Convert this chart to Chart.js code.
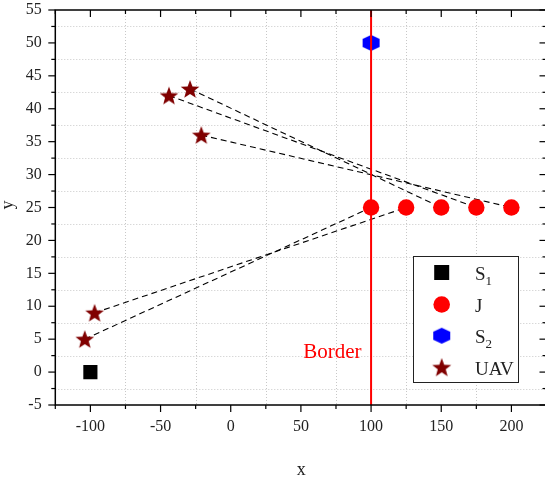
<!DOCTYPE html>
<html>
<head>
<meta charset="utf-8">
<script src="https://cdn.jsdelivr.net/npm/chart.js@4.4.1/dist/chart.umd.min.js"></script>
<style>
  html, body { margin: 0; padding: 0; overflow: hidden; background: #fff; }
  #wrap { width: 548px; height: 479px; }
</style>
</head>
<body>
<div id="wrap"><canvas id="posChart" width="548" height="479"></canvas></div>
<script>
// === ДАННЫЕ ===
const s1X = [-100];
const s1Y = [0];
const jamX = [100, 125, 150, 175, 200];
const jamY = [25, 25, 25, 25, 25];
const s2X = [100];
const s2Y = [50];
const uavX = [-29, -44, -21, -104, -97];
const uavY = [43, 42, 36, 5, 9];
// куда летит каждый БПЛА (индекс в jamX)
const uavTarget = [2, 3, 4, 0, 1];
const borderX = 100;

const xTicks = [-100, -50, 0, 50, 100, 150, 200];
const xMinor = [-125, -75, -25, 25, 75, 125, 175, 225];
const yTicks = [-5, 0, 5, 10, 15, 20, 25, 30, 35, 40, 45, 50, 55];
const yMinor = [-2.5, 2.5, 7.5, 12.5, 17.5, 22.5, 27.5, 32.5, 37.5, 42.5, 47.5, 52.5];

const FONT = "'Liberation Serif', 'Times New Roman', serif";
const UAV_COLOR = '#800000';

// === МАРКЕРЫ ===
function makeStar(rOut, color) {
    const size = Math.ceil(rOut * 2 + 2);
    const c = document.createElement('canvas');
    c.width = c.height = size;
    const g = c.getContext('2d');
    const cx = size / 2, cy = size / 2 + rOut * 0.08;
    g.beginPath();
    for (let i = 0; i < 10; i++) {
        const r = i % 2 ? rOut * 0.42 : rOut;
        const a = -Math.PI / 2 + i * Math.PI / 5;
        g.lineTo(cx + r * Math.cos(a), cy + r * Math.sin(a));
    }
    g.closePath();
    g.fillStyle = color;
    g.fill();
    return c;
}

function makeHex(w, h, color) {
    const c = document.createElement('canvas');
    c.width = w + 2; c.height = h + 2;
    const g = c.getContext('2d');
    const cx = c.width / 2, cy = c.height / 2;
    g.beginPath();
    g.moveTo(cx, cy - h / 2);
    g.lineTo(cx + w / 2, cy - h / 4);
    g.lineTo(cx + w / 2, cy + h / 4);
    g.lineTo(cx, cy + h / 2);
    g.lineTo(cx - w / 2, cy + h / 4);
    g.lineTo(cx - w / 2, cy - h / 4);
    g.closePath();
    g.fillStyle = color;
    g.fill();
    return c;
}

const starImg = makeStar(9.8, UAV_COLOR);
const hexImg = makeHex(17, 16, '#0000ff');

const pts = (xs, ys) => xs.map((x, i) => ({ x: x, y: ys[i] }));

// пунктир от БПЛА к постановщику помех
const pathSets = uavX.map((x, i) => ({
    label: 'path' + i,
    data: [{ x: x, y: uavY[i] }, { x: jamX[uavTarget[i]], y: jamY[uavTarget[i]] }],
    showLine: true,
    borderColor: '#000',
    borderWidth: 1.1,
    borderDash: [6, 4],
    pointRadius: 0
}));

// без запаса под крайние подписи
const noPad = s => { s.paddingTop = s.paddingBottom = s.paddingLeft = s.paddingRight = 0; };

// === СЕТКА, РАМКА, ЛЕГЕНДА ===
const decor = {
    id: 'decor',
    beforeDatasetsDraw(chart) {
        const { ctx, chartArea: a, scales: { x, y } } = chart;
        ctx.save();
        ctx.strokeStyle = '#c8c8c8';
        ctx.lineWidth = 1;
        ctx.setLineDash([1, 2]);
        xMinor.forEach(v => {
            const px = Math.round(x.getPixelForValue(v)) + 0.5;
            ctx.beginPath(); ctx.moveTo(px, a.top); ctx.lineTo(px, a.bottom); ctx.stroke();
        });
        yMinor.forEach(v => {
            const py = Math.round(y.getPixelForValue(v)) + 0.5;
            ctx.beginPath(); ctx.moveTo(a.left, py); ctx.lineTo(a.right, py); ctx.stroke();
        });
        ctx.restore();
    },
    afterDatasetsDraw(chart) {
        const { ctx, chartArea: a, scales: { x, y } } = chart;
        ctx.save();
        ctx.strokeStyle = '#000';
        ctx.lineWidth = 1.5;
        ctx.strokeRect(a.left, a.top, a.right - a.left, a.bottom - a.top);

        ctx.lineWidth = 1.2;
        const tick = (x1, y1, x2, y2) => { ctx.beginPath(); ctx.moveTo(x1, y1); ctx.lineTo(x2, y2); ctx.stroke(); };
        xTicks.forEach(v => {
            const px = x.getPixelForValue(v);
            tick(px, a.bottom, px, a.bottom + 7);
            tick(px, a.top, px, a.top + 7);
        });
        xMinor.forEach(v => {
            const px = x.getPixelForValue(v);
            tick(px, a.bottom, px, a.bottom + 4);
            tick(px, a.top, px, a.top + 4);
        });
        yTicks.forEach(v => {
            const py = y.getPixelForValue(v);
            tick(a.left, py, a.left - 7, py);
            tick(a.right, py, a.right - 7, py);
        });
        yMinor.forEach(v => {
            const py = y.getPixelForValue(v);
            tick(a.left, py, a.left - 4, py);
            tick(a.right, py, a.right - 4, py);
        });

        // подпись границы
        ctx.fillStyle = '#ff0000';
        ctx.font = '21px ' + FONT;
        ctx.textAlign = 'right';
        ctx.textBaseline = 'alphabetic';
        ctx.fillText('Border', x.getPixelForValue(borderX) - 9.5, y.getPixelForValue(0) - 14);

        // подписи осей
        ctx.fillStyle = '#222';
        ctx.font = '18px ' + FONT;
        ctx.textAlign = 'center';
        ctx.fillText('x', 301.3, 474.5);
        ctx.translate(12.5, 205);
        ctx.rotate(-Math.PI / 2);
        ctx.fillText('y', 0, 0);
        ctx.restore();

        // легенда
        ctx.save();
        const box = { l: 413.5, t: 256.5, w: 105, h: 126 };
        ctx.fillStyle = '#fff';
        ctx.fillRect(box.l, box.t, box.w, box.h);
        ctx.strokeStyle = '#222';
        ctx.lineWidth = 1;
        ctx.strokeRect(box.l, box.t, box.w, box.h);
        const symX = 441.7, txtX = 475;
        const rows = [272.5, 304.5, 335.7, 367.3];
        // квадрат
        ctx.fillStyle = '#000';
        ctx.fillRect(symX - 7.5, rows[0] - 7.5, 15, 15);
        // круг
        ctx.fillStyle = '#ff0000';
        ctx.beginPath(); ctx.arc(symX, rows[1], 8.3, 0, Math.PI * 2); ctx.fill();
        ctx.drawImage(hexImg, symX - hexImg.width / 2, rows[2] - hexImg.height / 2);
        const bigStar = makeStar(10, UAV_COLOR);
        ctx.drawImage(bigStar, symX - bigStar.width / 2, rows[3] - bigStar.height / 2);

        ctx.fillStyle = '#222';
        ctx.textAlign = 'left';
        ctx.textBaseline = 'alphabetic';
        const label = (main, sub, row) => {
            ctx.font = '19px ' + FONT;
            ctx.fillText(main, txtX, rows[row] + 7.5);
            if (sub) {
                const w = ctx.measureText(main).width;
                ctx.font = '13px ' + FONT;
                ctx.fillText(sub, txtX + w, rows[row] + 12);
            }
        };
        label('S', '1', 0);
        label('J', '', 1);
        label('S', '2', 2);
        label('UAV', '', 3);
        ctx.restore();
    }
};

// === ГРАФИК ===
new Chart(document.getElementById('posChart'), {
    type: 'scatter',
    data: {
        datasets: [
            {
                label: 'Border',
                data: [{ x: borderX, y: -5 }, { x: borderX, y: 55 }],
                showLine: true,
                borderColor: '#ff0000',
                borderWidth: 2,
                pointRadius: 0
            },
            { label: 'S1', data: pts(s1X, s1Y), pointStyle: 'rect', pointRadius: 10, backgroundColor: '#000', borderWidth: 0 },
            { label: 'J', data: pts(jamX, jamY), pointStyle: 'circle', pointRadius: 8.2, backgroundColor: '#ff0000', borderWidth: 0 },
            { label: 'S2', data: pts(s2X, s2Y), pointStyle: hexImg },
            { label: 'UAV', data: pts(uavX, uavY), pointStyle: starImg },
            ...pathSets
        ]
    },
    options: {
        responsive: false,
        animation: false,
        events: [],
        layout: { autoPadding: false, padding: { left: 0, top: 10, right: 1.5, bottom: 0 } },
        plugins: { legend: { display: false }, tooltip: { enabled: false } },
        scales: {
            x: {
                type: 'linear',
                min: -125,
                max: 225,
                grid: { display: false, drawTicks: false },
                border: { display: false },
                afterBuildTicks: s => { s.ticks = xTicks.map(v => ({ value: v })); },
                afterFit: s => { s.height = 74; noPad(s); },
                ticks: { autoSkip: false, maxRotation: 0, padding: 12.5, color: '#222', font: { family: FONT, size: 16 } }
            },
            y: {
                type: 'linear',
                min: -5,
                max: 55,
                grid: { display: false, drawTicks: false },
                border: { display: false },
                afterBuildTicks: s => { s.ticks = yTicks.map(v => ({ value: v })); },
                afterFit: s => { s.width = 55.3; noPad(s); },
                ticks: { autoSkip: false, padding: 13.6, color: '#222', font: { family: FONT, size: 16 } }
            }
        }
    },
    plugins: [decor]
});
</script>
</body>
</html>
